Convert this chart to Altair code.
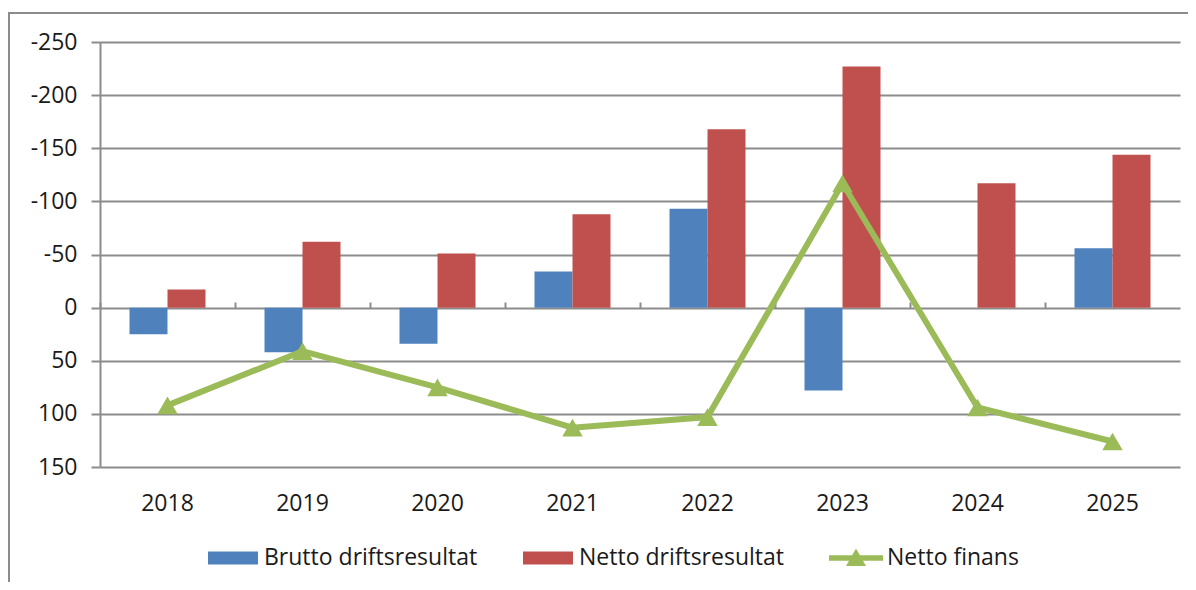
import altair as alt
import pandas as pd

years = ["2018", "2019", "2020", "2021", "2022", "2023", "2024", "2025"]
brutto = [25, 42, 34, -34, -93, 78, 0, -56]
netto_drift = [-17, -62, -51, -88, -168, -227, -117, -144]
netto_finans = [92, 41, 75, 113, 103, -117, 94, 126]
series_names = ["Brutto driftsresultat", "Netto driftsresultat", "Netto finans"]
series_colors = ["#4F81BD", "#C0504D", "#9BBB59"]
y_ticks = [-250, -200, -150, -100, -50, 0, 50, 100, 150]

bars_df = pd.DataFrame(
    {
        "year": years * 2,
        "series": [series_names[0]] * len(years) + [series_names[1]] * len(years),
        "value": brutto + netto_drift,
    }
)
line_df = pd.DataFrame({"year": years, "series": series_names[2], "value": netto_finans})
all_df = pd.concat([bars_df, line_df], ignore_index=True)
frame_df = pd.DataFrame({"k": [0]})

FONT = "Open Sans"
TXT = "#1a1a1a"
GRID = "#8c8c8c"

x_scale = alt.Scale(domain=years, paddingInner=0.437, paddingOuter=0.2185)
y_scale = alt.Scale(domain=[-250, 150], reverse=True, nice=False, zero=True)
color_scale = alt.Scale(domain=series_names, range=series_colors)
shape_scale = alt.Scale(
    domain=series_names,
    range=[
        "M-1,-0.26H1V0.26H-1Z",
        "M-1,-0.26H1V0.26H-1Z",
        "M-1.08,-0.11H1.08V0.11H-1.08Z M0,-0.38L0.4,0.32L-0.4,0.32Z",
    ],
)

label_axis = alt.Axis(
    orient="bottom", title=None, domain=False, ticks=False, grid=False,
    labelFont=FONT, labelFontSize=23, labelColor=TXT, labelPadding=25, labelAngle=0,
)
tick_axis = alt.Axis(
    orient="bottom", title=None, domain=False, labels=False, grid=False,
    ticks=True, tickSize=6, tickWidth=2, tickColor=GRID, offset=-165, bandPosition=-0.388,
)
y_axis = alt.Axis(
    values=y_ticks, title=None, grid=True, gridColor=GRID, gridWidth=2,
    domain=True, domainColor=GRID, domainWidth=2,
    ticks=True, tickSize=9, tickWidth=2, tickColor=GRID,
    labelFont=FONT, labelFontSize=23, labelColor=TXT, labelPadding=14,
    labelExpr="'' + datum.value",
)

legend_cfg = dict(
    orient="none", legendX=108, legendY=491, direction="horizontal", columns=3,
    title=None, labelFont=FONT, labelFontSize=23, labelColor=TXT, labelOffset=6,
    labelLimit=500,
    symbolSize=2500, symbolOpacity=1, symbolStrokeWidth=0, columnPadding=45, padding=0,
)


def yenc():
    return alt.Y("value:Q", scale=y_scale, axis=y_axis)


frame_v = alt.Chart(frame_df).mark_rule(color=GRID, strokeWidth=2).encode(
    x=alt.value(-91), y=alt.value(-29), y2=alt.value(600)
)
frame_h = alt.Chart(frame_df).mark_rule(color=GRID, strokeWidth=2).encode(
    x=alt.value(-92), x2=alt.value(1200), y=alt.value(-29)
)

bars = alt.Chart(bars_df).mark_bar().encode(
    x=alt.X("year:N", sort=years, scale=x_scale, axis=label_axis),
    xOffset=alt.XOffset("series:N", sort=series_names[:2], scale=alt.Scale(paddingInner=0, paddingOuter=0)),
    y=yenc(),
    color=alt.Color("series:N", scale=color_scale, legend=alt.Legend(**legend_cfg)),
)

line = alt.Chart(line_df).mark_line(color=series_colors[2], strokeWidth=6).encode(
    x=alt.X("year:N", sort=years, scale=x_scale, axis=tick_axis),
    y=yenc(),
)

points = alt.Chart(line_df).mark_point(
    shape="triangle-up", filled=True, size=420, color=series_colors[2], opacity=1
).encode(
    x=alt.X("year:N", sort=years, scale=x_scale, axis=None),
    y=yenc(),
)

legend_pts = alt.Chart(all_df).mark_point(filled=True, opacity=0).encode(
    x=alt.X("year:N", sort=years, scale=x_scale, axis=None),
    y=yenc(),
    color=alt.Color("series:N", scale=color_scale, legend=alt.Legend(**legend_cfg)),
    shape=alt.Shape("series:N", scale=shape_scale, legend=alt.Legend(**legend_cfg)),
)

chart = (
    alt.layer(frame_v, frame_h, bars, line, points, legend_pts)
    .resolve_axis(x="independent")
    .properties(
        width=1080,
        height=425,
        autosize=alt.AutoSizeParams(type="none"),
        padding={"left": 92, "top": 34, "right": 8, "bottom": 115},
        background="white",
    )
    .configure_view(strokeWidth=0)
)

chart.save("out.html", embed_options={"renderer": "svg", "actions": False})
